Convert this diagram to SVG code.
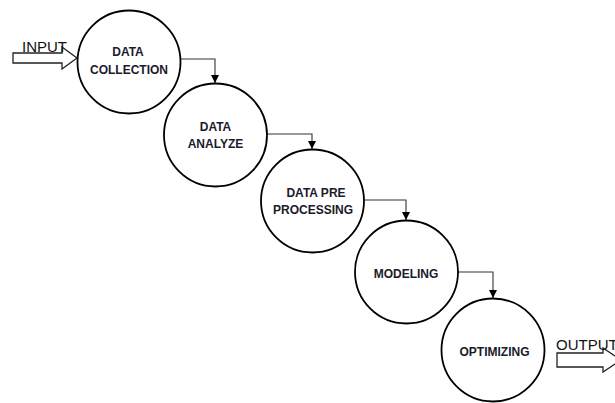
<svg xmlns="http://www.w3.org/2000/svg" width="615" height="403" viewBox="0 0 615 403">
<defs>
<style>
.node{fill:#fff;stroke:#000;stroke-width:1.8}
.lbl{font-family:"Liberation Sans",Arial,sans-serif;font-weight:bold;font-size:12px;fill:#1a1a2c;text-anchor:middle}
.io{font-family:"Liberation Sans",Arial,sans-serif;font-size:15px;fill:#111}
.conn{fill:none;stroke:#333;stroke-width:1.1}
.blk{fill:#fff;stroke:#222;stroke-width:1.3;stroke-linejoin:miter}
</style>
<marker id="ah" viewBox="0 0 10 10" refX="10" refY="5" markerWidth="8" markerHeight="8" markerUnits="userSpaceOnUse" orient="auto">
<path d="M0,0 L10,5 L0,10 Z" fill="#000"/>
</marker>
</defs>
<rect width="615" height="403" fill="#fff"/>
<g id="connectors">
<path class="conn" d="M180,59 H215 V83" marker-end="url(#ah)"/>
<path class="conn" d="M267,134 H312 V149" marker-end="url(#ah)"/>
<path class="conn" d="M364,200 H406 V220" marker-end="url(#ah)"/>
<path class="conn" d="M458,272 H493 V298" marker-end="url(#ah)"/>
</g>
<g id="input">
<path class="blk" d="M13,53 H62 V47 L77,58 L62,69 V63 H13 Z"/>
<text class="io" x="22" y="52">INPUT</text>
</g>
<g id="output">
<path class="blk" d="M557,353 H603 V348 L621,360 L603,372 V367 H557 Z"/>
<text class="io" x="556" y="350">OUTPUT</text>
</g>
<g id="n1">
<circle class="node" cx="129" cy="62" r="51.5"/>
<text class="lbl" x="128" y="56">DATA</text>
<text class="lbl" x="129" y="74">COLLECTION</text>
</g>
<g id="n2">
<circle class="node" cx="215.5" cy="135" r="51.5"/>
<text class="lbl" x="215.5" y="131">DATA</text>
<text class="lbl" x="215.5" y="148">ANALYZE</text>
</g>
<g id="n3">
<circle class="node" cx="312.5" cy="201" r="51.5"/>
<text class="lbl" x="316" y="197">DATA PRE</text>
<text class="lbl" x="313" y="214">PROCESSING</text>
</g>
<g id="n4">
<circle class="node" cx="406.5" cy="272" r="51.5"/>
<text class="lbl" x="406" y="278">MODELING</text>
</g>
<g id="n5">
<circle class="node" cx="493" cy="350" r="51.5"/>
<text class="lbl" x="494.5" y="356">OPTIMIZING</text>
</g>
</svg>
